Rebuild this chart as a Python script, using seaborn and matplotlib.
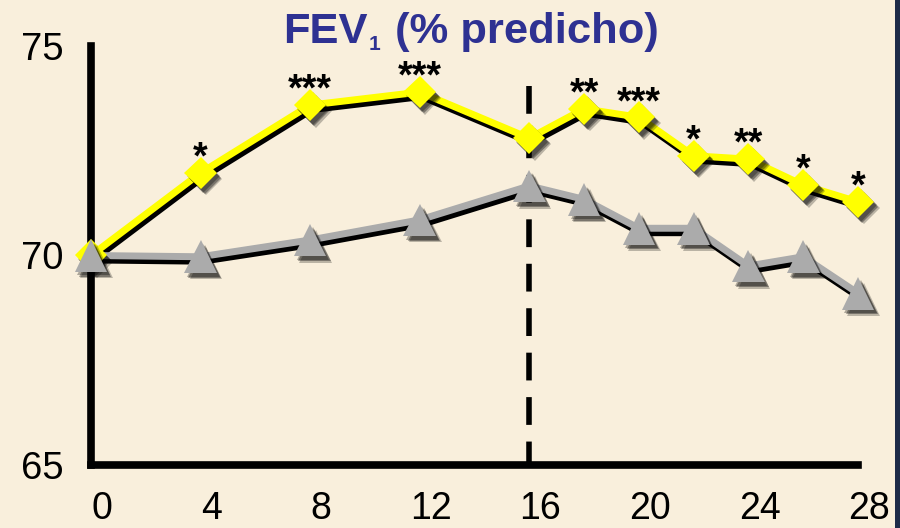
import matplotlib
matplotlib.use("Agg")
import matplotlib.pyplot as plt
import matplotlib.patheffects as pe
from matplotlib.transforms import ScaledTranslation
from matplotlib.patches import Rectangle
import pandas as pd
import seaborn as sns

# ---- data ----
weeks = [0, 4, 8, 12, 16, 18, 20, 22, 24, 26, 28]
treated = [70.0, 71.97, 73.59, 73.90, 72.80, 73.50, 73.30, 72.38, 72.30, 71.68, 71.28]
control = [70.0, 69.97, 70.37, 70.85, 71.66, 71.34, 70.65, 70.65, 69.75, 69.97, 69.10]
stars = ["", "*", "***", "***", "", "**", "***", "*", "**", "*", "*"]
x_ticks = [0, 4, 8, 12, 16, 20, 24, 28]
y_ticks = [65, 70, 75]
switch_week = 16
switch_top = 74.05
title_main = "FEV"
title_sub = "1"
title_rest = " (% predicho)"

df_t = pd.DataFrame({"week": weeks, "fev": treated})
df_c = pd.DataFrame({"week": weeks, "fev": control})

sns.set_style("white")
plt.rcParams["font.family"] = ["Liberation Sans", "DejaVu Sans"]

bg = "#F9EFDC"
fig = plt.figure(figsize=(9, 5.28), dpi=100, facecolor=bg)
ax = fig.add_axes([0.1011, 0.1193, 0.8522, 0.7936])
ax.set_facecolor("none")

yellow = "#FFFF00"
gray = "#ABABAB"

# dashed switch line
ax.plot([switch_week, switch_week], [switch_top, 65], color="black", lw=4,
        linestyle=(0, (5, 3)), zorder=1, clip_on=False, solid_capstyle="butt",
        dash_capstyle="butt")

line_shadow = [pe.SimpleLineShadow(offset=(1.5, -3.2), shadow_color="black", alpha=1.0),
               pe.Normal()]
marker_shadow = [pe.SimplePatchShadow(offset=(2.0, -2.5), shadow_rgbFace="black", alpha=0.30),
                 pe.SimplePatchShadow(offset=(3.0, -3.5), shadow_rgbFace="black", alpha=0.35),
                 pe.SimplePatchShadow(offset=(4.0, -4.5), shadow_rgbFace="black", alpha=0.25),
                 pe.Normal()]

# lines
n0 = len(ax.lines)
sns.lineplot(data=df_t, x="week", y="fev", ax=ax, color=yellow, lw=5, zorder=2)
sns.lineplot(data=df_c, x="week", y="fev", ax=ax, color=gray, lw=5, zorder=3)
for ln in ax.lines[n0:]:
    ln.set_path_effects(line_shadow)
    ln.set_clip_on(False)

# markers
n1 = len(ax.lines)
sns.lineplot(data=df_t, x="week", y="fev", ax=ax, color=yellow, linestyle="none",
             marker="D", markersize=16.5, markeredgewidth=0, zorder=4)
sns.lineplot(data=df_c, x="week", y="fev", ax=ax, color=gray, linestyle="none",
             marker="^", markersize=23.5, markeredgewidth=0, zorder=5)
for ln in ax.lines[n1:]:
    ln.set_path_effects(marker_shadow)
    ln.set_clip_on(False)

# significance stars
for wk, val, s in zip(weeks, treated, stars):
    if s:
        ax.annotate(s, (wk, val), xytext=(0, 3), textcoords="offset points",
                    ha="center", va="baseline", fontsize=27, fontweight="bold",
                    color="black", zorder=6)

ax.set_xlim(0, 28)
ax.set_ylim(65, 75)
ax.set_xticks(x_ticks)
ax.set_yticks(y_ticks)
ax.set_xlabel("")
ax.set_ylabel("")

sns.despine(ax=ax)
for side in ("left", "bottom"):
    ax.spines[side].set_linewidth(5.5)
    ax.spines[side].set_color("black")
    ax.spines[side].set_capstyle("projecting")

ax.tick_params(axis="x", direction="out", length=6, width=3.5, color="white",
               labelsize=27, pad=13, labelcolor="black")
ax.tick_params(axis="y", direction="out", length=4, width=3.5, color="white",
               labelsize=27.5, pad=16, labelcolor="black")
tick_fx = [pe.SimpleLineShadow(offset=(3.5, -3.5), shadow_color="black", alpha=1.0), pe.Normal()]
for t in ax.xaxis.get_major_ticks() + ax.yaxis.get_major_ticks():
    t.tick1line.set_path_effects(tick_fx)

shift = ScaledTranslation(8 / 72, 0, fig.dpi_scale_trans)
for lab in ax.get_xticklabels():
    lab.set_transform(lab.get_transform() + shift)

# title: FEV + small subscript 1 + rest
tcol = "#2E3192"
t1 = fig.text(0.3150, 0.9186, title_main, ha="left", va="baseline", fontsize=31.3,
              fontweight="bold", color=tcol)
t2 = ax.annotate(title_sub, xy=(1, 0), xycoords=t1, xytext=(0.5, -1.5),
                 textcoords="offset points", ha="left", va="bottom",
                 fontsize=15, fontweight="bold", color=tcol, annotation_clip=False)
t3 = ax.annotate(title_rest, xy=(1, 0), xycoords=t1, xytext=(11, 0),
                 textcoords="offset points", ha="left", va="bottom",
                 fontsize=31.3, fontweight="bold", color=tcol, annotation_clip=False)

# dark frame strip on the right edge
fig.patches.append(Rectangle((0.994, 0), 0.006, 1, transform=fig.transFigure,
                             facecolor="#1E2B48", edgecolor="none", zorder=0))

fig.savefig("out.png", dpi=100, facecolor=bg)
